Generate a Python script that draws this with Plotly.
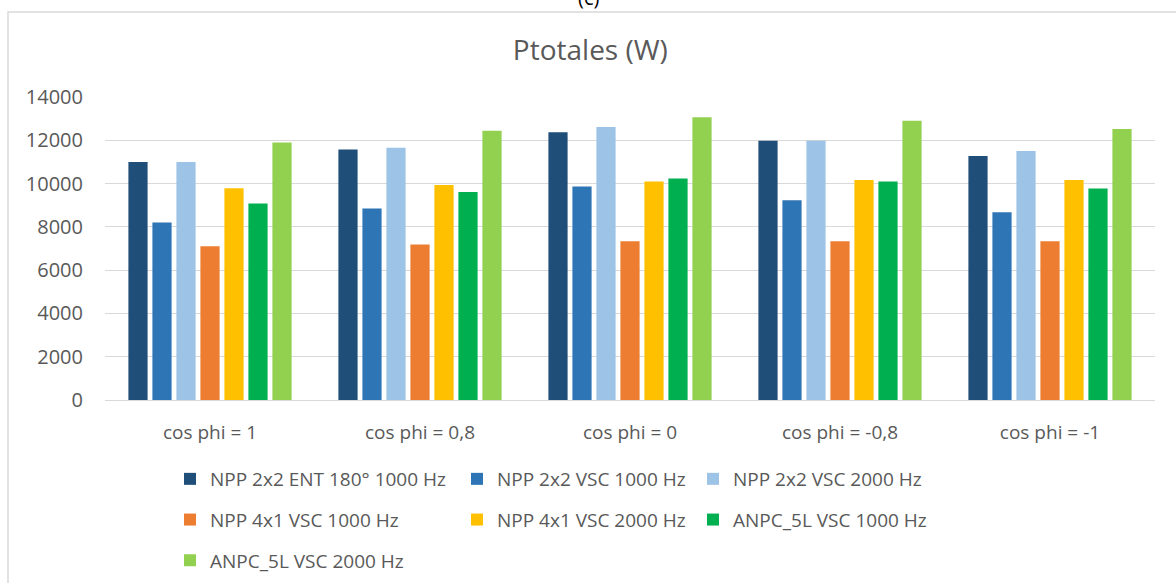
import plotly.graph_objects as go

categories = ["cos phi = 1", "cos phi = 0,8", "cos phi = 0", "cos phi = -0,8", "cos phi = -1"]
series_names = [
    "NPP 2x2 ENT 180° 1000 Hz",
    "NPP 2x2 VSC 1000 Hz",
    "NPP 2x2 VSC 2000 Hz",
    "NPP 4x1 VSC 1000 Hz",
    "NPP 4x1 VSC 2000 Hz",
    "ANPC_5L VSC 1000 Hz",
    "ANPC_5L VSC 2000 Hz",
]
npp2x2_ent_1000 = [11000, 11580, 12370, 11980, 11270]
npp2x2_vsc_1000 = [8200, 8850, 9860, 9230, 8680]
npp2x2_vsc_2000 = [11000, 11660, 12610, 11980, 11500]
npp4x1_vsc_1000 = [7100, 7190, 7340, 7340, 7340]
npp4x1_vsc_2000 = [9780, 9930, 10090, 10170, 10170]
anpc5l_vsc_1000 = [9080, 9610, 10240, 10090, 9770]
anpc5l_vsc_2000 = [11900, 12440, 13070, 12900, 12520]
series_values = [npp2x2_ent_1000, npp2x2_vsc_1000, npp2x2_vsc_2000,
                 npp4x1_vsc_1000, npp4x1_vsc_2000, anpc5l_vsc_1000, anpc5l_vsc_2000]
colors = ["#1F4E79", "#2E75B6", "#9DC3E6", "#ED7D31", "#FFC000", "#00B050", "#92D050"]
legend_of = ["legend", "legend2", "legend3", "legend", "legend2", "legend3", "legend"]
y_ticks = [0, 2000, 4000, 6000, 8000, 10000, 12000, 14000]

W, H = 1176, 583
L, R, T, B = 105, 21, 97, 183
pw, ph = W - L - R, H - T - B

def px_x(p):
    return (p - L) / pw

def px_y(p):
    return (H - B - p) / ph

FONT = "Open Sans"
GREY = "#595959"

fig = go.Figure()
for i, (name, vals, col) in enumerate(zip(series_names, series_values, colors)):
    fig.add_trace(go.Bar(
        x=categories, y=vals, name=name, marker_color=col,
        marker_line_width=0, legend=legend_of[i], legendgroup="g%d" % i,
    ))

leg_common = dict(
    orientation="v", xanchor="left", yanchor="top",
    font=dict(family=FONT, size=19, color=GREY),
    bgcolor="rgba(0,0,0,0)", tracegroupgap=13, itemclick=False,
)
leg_top = px_y(460)

fig.update_layout(
    width=W, height=H,
    margin=dict(l=L, r=R, t=T, b=B, autoexpand=False),
    paper_bgcolor="white", plot_bgcolor="white",
    barmode="group", bargap=0.2, bargroupgap=0.2,
    font=dict(family=FONT, color=GREY),
    title=dict(text="Ptotales (W)", x=0.502, xanchor="center",
               y=1 - 50 / H, yanchor="middle", yref="container",
               font=dict(family=FONT, size=28, color=GREY)),
    xaxis=dict(showgrid=False, showline=False, zeroline=False,
               tickfont=dict(family=FONT, size=19, color=GREY),
               ticks="", ticklabelstandoff=19),
    yaxis=dict(range=[0, 14000], tickvals=y_ticks, ticktext=[str(v) for v in y_ticks],
               showgrid=True, gridcolor="#D9D9D9", gridwidth=1,
               zeroline=True, zerolinecolor="#D9D9D9", zerolinewidth=1,
               showline=False, ticks="",
               tickfont=dict(family=FONT, size=20, color=GREY),
               ticklabelstandoff=21),
    legend=dict(x=px_x(170), y=leg_top, **leg_common),
    legend2=dict(x=px_x(457), y=leg_top, **leg_common),
    legend3=dict(x=px_x(693), y=leg_top, **leg_common),
    showlegend=True,
)

fig.add_shape(type="rect", xref="paper", yref="paper",
              x0=px_x(8), x1=px_x(1190), y0=px_y(600), y1=px_y(12),
              line=dict(color="#D9D9D9", width=1.5), fillcolor="rgba(0,0,0,0)", layer="below")

fig.add_annotation(text="(c)", xref="paper", yref="paper",
                   x=px_x(588), y=px_y(-3), xanchor="center", yanchor="middle",
                   showarrow=False, font=dict(family=FONT, size=20, color="#000000"))

fig.write_html("out.html", config={"displayModeBar": False},
               post_script="document.body.style.margin='0';document.body.style.overflow='hidden';")
